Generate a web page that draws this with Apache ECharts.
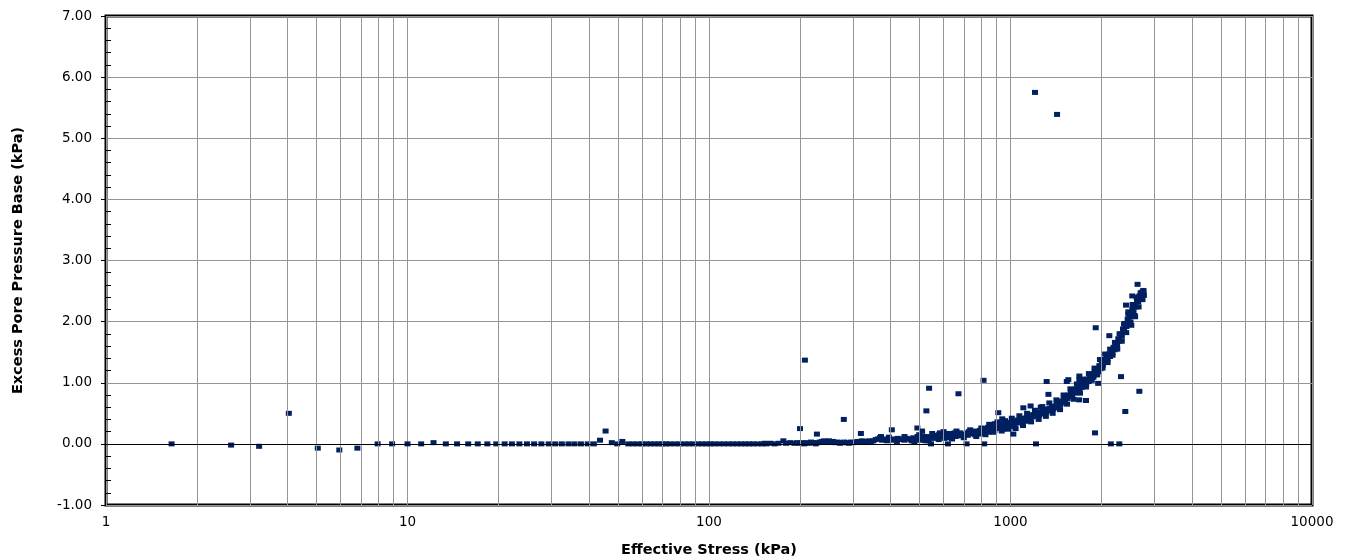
<!DOCTYPE html>
<html>
<head>
<meta charset="utf-8">
<script src="https://cdn.jsdelivr.net/npm/echarts@6.0.0/dist/echarts.min.js"></script>
<style>
html,body{margin:0;padding:0;background:#fff;}
#c{width:1349px;height:560px;}
</style>
</head>
<body>
<div id="c"></div>
<script>
// ---- data (Effective Stress kPa, Excess Pore Pressure kPa) ----
const xTickLabels = ['1', '10', '100', '1000', '10000'];
const yTickLabels = ['-1.00', '0.00', '1.00', '2.00', '3.00', '4.00', '5.00', '6.00', '7.00'];

// sparse low-stress readings
const lowPoints = [
  [1.65, 0.00], [2.6, -0.02], [3.22, -0.04], [4.04, 0.50], [5.04, -0.07], [5.94, -0.10],
  [6.82, -0.07], [7.96, 0.00], [8.89, 0.00], [10.0, 0.00], [11.1, 0.00], [12.2, 0.02],
  [13.4, 0.00], [14.6, 0.00], [15.9, 0.00], [17.1, 0.00], [18.4, 0.00], [19.7, 0.00],
  [21.0, 0.00], [22.2, 0.00], [23.5, 0.00], [24.9, 0.00], [26.3, 0.00], [27.8, 0.00],
  [29.4, 0.00], [30.9, 0.00], [32.5, 0.00], [34.2, 0.00], [35.8, 0.00], [37.6, 0.00],
  [39.6, 0.00], [41.5, 0.00], [43.5, 0.06], [45.4, 0.21], [47.6, 0.02], [49.6, 0.00],
  [51.6, 0.04]
];

// dense flat band 53-200 kPa
const flatPoints = [
  [54, 0], [56, 0], [58, 0], [60, 0], [62, 0], [64, 0], [66, 0], [68, 0], [70, 0],
  [72, 0], [74, 0], [77, 0], [80, 0], [83, 0], [86, 0], [89, 0], [92, 0], [95, 0],
  [98, 0], [101, 0], [104, 0], [108, 0], [112, 0], [116, 0], [120, 0], [124, 0],
  [128, 0], [132, 0], [136, 0], [140, 0], [145, 0], [150, 0], [153, 0.01], [155, 0],
  [160, 0.01], [165, 0], [170, 0.01], [176.5, 0.05], [180, 0.01], [186, 0.02],
  [192, 0.01], [196, 0.02]
];

// rising band 200-2760 kPa (centre readings)
const bandPoints = [
  [200, 0.01], [204, 0.02], [207, 0.00], [211, 0.02], [215, 0.01], [218, 0.03], [222, 0.02],
  [226, 0.00], [229, 0.02], [233, 0.03], [237, 0.04], [241, 0.05], [246, 0.04], [250, 0.05],
  [254, 0.03], [258, 0.04], [262, 0.02], [267, 0.03], [272, 0.01], [276, 0.02], [281, 0.03],
  [286, 0.02], [291, 0.01], [296, 0.03], [301, 0.02], [306, 0.03], [311, 0.04], [317, 0.03],
  [322, 0.05], [327, 0.04], [333, 0.03], [339, 0.05], [345, 0.04], [351, 0.05], [357, 0.07],
  [363, 0.08], [369, 0.10], [372, 0.12], [375, 0.06], [382, 0.08], [389, 0.05], [395, 0.07],
  [402, 0.06], [409, 0.08], [416, 0.07], [423, 0.09], [430, 0.07], [437, 0.08], [445, 0.06],
  [453, 0.09], [460, 0.08], [468, 0.07], [476, 0.10], [480, 0.03], [484, 0.06], [492, 0.12],
  [501, 0.10], [505, 0.06], [510, 0.13], [518, 0.08], [527, 0.12], [532, 0.10], [536, 0.05],
  [545, 0.11], [555, 0.14], [560, 0.09], [565, 0.13], [574, 0.10], [580, 0.16], [584, 0.18],
  [590, 0.12], [594, 0.15], [604, 0.09], [614, 0.14], [620, 0.12], [625, 0.17], [630, 0.10],
  [636, 0.15], [646, 0.14], [652, 0.18], [657, 0.12], [668, 0.16], [674, 0.13], [680, 0.18],
  [692, 0.16], [704, 0.15], [716, 0.18], [722, 0.14], [728, 0.20], [741, 0.17], [753, 0.19],
  [760, 0.15], [766, 0.21], [779, 0.20], [785, 0.16], [792, 0.22], [799, 0.19], [806, 0.24],
  [813, 0.17], [820, 0.25], [834, 0.22], [841, 0.27], [848, 0.19], [855, 0.28], [862, 0.24],
  [870, 0.30], [877, 0.26], [885, 0.22], [893, 0.29], [900, 0.25], [908, 0.31], [915, 0.27],
  [923, 0.33], [931, 0.28], [939, 0.30], [947, 0.24], [955, 0.33], [963, 0.28], [971, 0.32],
  [980, 0.35], [988, 0.29], [996, 0.34], [1005, 0.30], [1013, 0.36], [1022, 0.33], [1031, 0.28],
  [1040, 0.37], [1049, 0.34], [1058, 0.39], [1066, 0.35], [1075, 0.38],
  [1085, 0.36], [1095, 0.40], [1103, 0.38], [1112, 0.42], [1122, 0.37], [1131, 0.43],
  [1140, 0.40], [1150, 0.45], [1160, 0.42], [1170, 0.46], [1180, 0.44], [1190, 0.48],
  [1200, 0.45], [1211, 0.49], [1222, 0.46], [1233, 0.50], [1244, 0.47], [1255, 0.52],
  [1266, 0.49], [1277, 0.53], [1288, 0.50], [1300, 0.55], [1312, 0.52], [1324, 0.57],
  [1336, 0.54], [1348, 0.58], [1360, 0.56], [1373, 0.60], [1386, 0.57], [1398, 0.62],
  [1410, 0.59], [1423, 0.65], [1436, 0.62], [1449, 0.67], [1462, 0.64], [1476, 0.70],
  [1489, 0.67], [1502, 0.73], [1516, 0.70], [1530, 0.77], [1544, 0.74], [1558, 0.80],
  [1572, 0.77], [1586, 0.84], [1600, 0.80], [1615, 0.87], [1630, 0.83], [1644, 0.90],
  [1660, 0.86], [1675, 0.93], [1690, 0.89], [1705, 0.97], [1720, 0.92], [1736, 1.00],
  [1752, 0.95], [1768, 1.03], [1784, 0.98], [1800, 1.06], [1817, 1.02], [1833, 1.10],
  [1850, 1.05], [1867, 1.14], [1884, 1.09], [1901, 1.18], [1918, 1.13], [1936, 1.23],
  [1953, 1.18], [1971, 1.28], [1989, 1.23], [2007, 1.33], [2025, 1.29], [2043, 1.38],
  [2062, 1.34], [2081, 1.43], [2100, 1.39], [2119, 1.47], [2138, 1.43], [2158, 1.52],
  [2177, 1.48], [2197, 1.58], [2217, 1.54], [2237, 1.65], [2257, 1.61], [2278, 1.72],
  [2298, 1.68], [2319, 1.80], [2340, 1.76], [2361, 1.88], [2382, 1.84], [2403, 1.96],
  [2425, 1.92], [2447, 2.04], [2469, 2.00], [2491, 2.12], [2513, 2.08], [2536, 2.20],
  [2559, 2.16], [2582, 2.28], [2605, 2.24], [2628, 2.36], [2652, 2.32], [2676, 2.42],
  [2700, 2.38], [2724, 2.48], [2748, 2.44], [2760, 2.50]
];

// readings on the upper / lower edges of the band (band thickness)
const bandEdgePoints = [
  [395, 0.11], [420, 0.04], [445, 0.12], [470, 0.05], [498, 0.15], [522, 0.05], [550, 0.17],
  [578, 0.07], [600, 0.20], [640, 0.08], [662, 0.21], [700, 0.10], [735, 0.23], [770, 0.12],
  [800, 0.26], [826, 0.15], [850, 0.32], [880, 0.19], [905, 0.36], [935, 0.21], [960, 0.38],
  [985, 0.24], [1010, 0.42], [1040, 0.25], [1070, 0.46], [1100, 0.30], [1135, 0.50],
  [1170, 0.36], [1205, 0.55], [1240, 0.40], [1275, 0.61], [1310, 0.45], [1345, 0.67],
  [1380, 0.50], [1420, 0.72], [1460, 0.56], [1500, 0.80], [1540, 0.65], [1580, 0.90],
  [1620, 0.73], [1660, 0.98], [1700, 0.83], [1740, 1.06], [1780, 0.93], [1820, 1.15],
  [1860, 1.04], [1900, 1.24], [1940, 1.13], [1980, 1.38], [2020, 1.24], [2060, 1.47],
  [2100, 1.33], [2140, 1.55], [2180, 1.45], [2220, 1.66], [2260, 1.55], [2300, 1.80],
  [2340, 1.68], [2380, 1.96], [2420, 1.82], [2460, 2.12], [2500, 1.99], [2540, 2.28],
  [2580, 2.10], [2620, 2.40], [2660, 2.24], [2700, 2.47], [2740, 2.36]
];

// scattered readings away from the band
const outlierPoints = [
  [200.4, 0.25], [208, 1.37], [228, 0.16], [280, 0.40], [319, 0.17], [404, 0.23], [491, 0.26],
  [509, 0.21], [526, 0.54], [537, 0.91], [672, 0.82], [814, 1.04], [888, 0.33], [911, 0.51],
  [939, 0.41], [1022, 0.16], [1103, 0.59], [1166, 0.62], [1260, 0.60], [1318, 1.02],
  [1336, 0.81], [1537, 1.02], [1555, 1.05], [1692, 1.11], [1692, 1.05], [1690, 0.72],
  [1780, 0.71], [1907, 0.18], [1917, 1.90], [1953, 0.99], [2127, 1.77], [2325, 1.10],
  [2403, 0.53], [2675, 0.86], [545, 0.00], [620, 0.00], [715, 0.00], [818, 0.00],
  [1215, 0.00], [2152, 0.00], [2296, 0.00], [1206, 5.75], [1427, 5.39], [2416, 2.27],
  [2459, 2.16], [2534, 2.42], [2395, 1.97], [2516, 1.94], [2590, 2.08], [2757, 2.51],
  [2723, 2.38], [2770, 2.43], [2639, 2.61]
];

// log-axis minor gridline values
const minorGrid = [2, 3, 4, 5, 6, 7, 8, 9, 20, 30, 40, 50, 60, 70, 80, 90,
  200, 300, 400, 500, 600, 700, 800, 900, 2000, 3000, 4000, 5000, 6000, 7000, 8000, 9000];

const allPoints = lowPoints.concat(flatPoints, bandPoints, bandEdgePoints, outlierPoints);

const chart = echarts.init(document.getElementById('c'), null, { renderer: 'canvas' });
const gridColor = '#959595';
const option = {
  animation: false,
  backgroundColor: '#ffffff',
  grid: {
    left: 106, top: 16, width: 1206, height: 489,
    outerBoundsMode: 'none', containLabel: false,
    show: true, borderColor: '#000', borderWidth: 3, backgroundColor: 'transparent'
  },
  xAxis: {
    type: 'log', logBase: 10, min: 1, max: 10000,
    axisLine: { show: false }, axisTick: { show: false },
    axisLabel: {
      color: '#000', fontFamily: 'DejaVu Sans', fontSize: 13.5, margin: 10,
      formatter: function (v) {
        const i = Math.round(Math.log10(v));
        return xTickLabels[i] !== undefined ? xTickLabels[i] : '';
      }
    },
    splitLine: { show: true, lineStyle: { color: gridColor, width: 1 } },
    name: 'Effective Stress (kPa)', nameLocation: 'middle', nameGap: 38,
    nameTextStyle: { fontFamily: 'DejaVu Sans', fontWeight: 'bold', fontSize: 14.5, color: '#000' }
  },
  yAxis: {
    type: 'value', min: -1, max: 7, interval: 1,
    axisLine: { show: false },
    axisTick: { show: true, length: 5, lineStyle: { color: '#000', width: 1 } },
    minorTick: { show: true, splitNumber: 5, length: -5, lineStyle: { color: '#000', width: 1 } },
    axisLabel: {
      color: '#000', fontFamily: 'DejaVu Sans', fontSize: 13.5, margin: 14,
      formatter: function (v) { return yTickLabels[Math.round(v) + 1]; }
    },
    splitLine: { show: true, lineStyle: { color: gridColor, width: 1 } },
    name: 'Excess Pore Pressure Base (kPa)', nameLocation: 'middle', nameGap: 80, nameRotate: 90,
    nameTextStyle: { fontFamily: 'DejaVu Sans', fontWeight: 'bold', fontSize: 14.5, color: '#000' }
  },
  series: [
    {
      type: 'scatter', data: [], z: 1, silent: true,
      markLine: {
        silent: true, symbol: 'none', animation: false, label: { show: false },
        data: minorGrid.map(function (v) {
          return { xAxis: v, lineStyle: { color: gridColor, width: 1, type: 'solid' } };
        }).concat([{ yAxis: 0, lineStyle: { color: '#000', width: 1, type: 'solid' } }])
      }
    },
    {
      type: 'scatter', z: 3, symbol: 'rect', symbolSize: [6, 5],
      itemStyle: { color: '#002060', opacity: 1 },
      data: allPoints
    }
  ]
};
chart.setOption(option);
</script>
</body>
</html>
